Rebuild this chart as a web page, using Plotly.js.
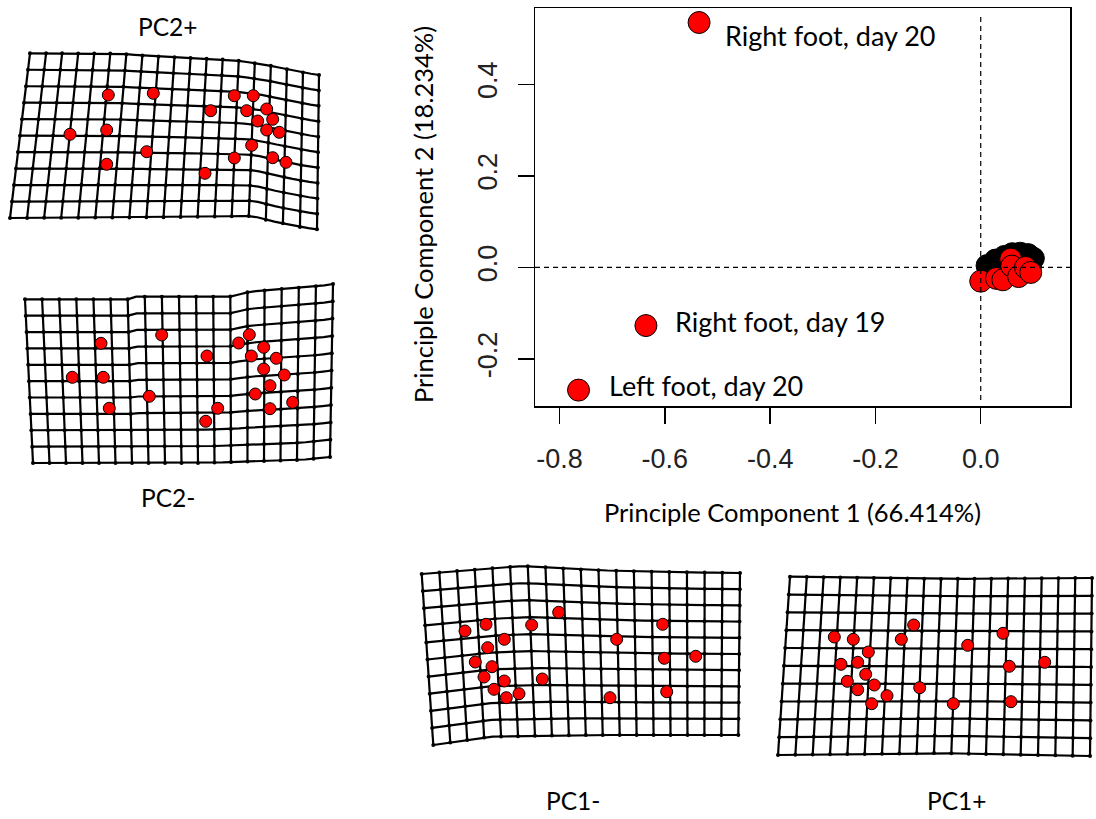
<!DOCTYPE html>
<html>
<head>
<meta charset="utf-8">
<script src="https://cdn.plot.ly/plotly-3.0.1.min.js"></script>
<style>html,body{margin:0;padding:0;background:#fff;}#plot{width:1096px;height:819px;}</style>
</head>
<body>
<div id="plot"></div>
<script>
// ---------------- DATA ----------------
// Main PCA scores (PC1, PC2)
const outlierNames = ["Right foot, day 20", "Right foot, day 19", "Left foot, day 20"];
const outlierPC1 = [-0.535, -0.636, -0.764];
const outlierPC2 = [0.535, -0.127, -0.268];
// Label anchor (left edge of text) in data units
const labelPC1 = [-0.489, -0.584, -0.710];
const labelPC2 = [0.506, -0.118, -0.258];

// Group 1 (black) cluster near origin
const blackPC1 = [0.012, 0.028, 0.035, 0.045, 0.050, 0.060, 0.075, 0.080, 0.090, 0.095, 0.100];
const blackPC2 = [0.004, 0.016, 0.008, 0.024, 0.010, 0.030, 0.031, 0.012, 0.028, 0.006, 0.020];
// Group 2 (red) cluster near origin
const redPC1 = [0.000, 0.030, 0.042, 0.057, 0.059, 0.072, 0.085, 0.095];
const redPC2 = [-0.030, -0.024, -0.027, 0.018, 0.003, -0.020, 0.000, -0.011];

const xTicks = [-0.8, -0.6, -0.4, -0.2, 0.0];
const xTickText = ["-0.8", "-0.6", "-0.4", "-0.2", "0.0"];
const yTicks = [-0.2, 0.0, 0.2, 0.4];
const yTickText = ["-0.2", "0.0", "0.2", "0.4"];

// Landmark configurations (panel-local units)
const pc2PlusX = [108.3,153.3,70,106.7,146.7,106.7,210.7,234.3,253.3,246.7,266.7,257.7,272.7,266.7,279.3,251.7,234.3,272.7,286,205];
const pc2PlusY = [55,53.3,94.3,90,111.7,124.3,70.7,55.7,55.7,70.7,69,81,79.3,90,92.3,105.3,118,117.7,122.3,133.3];
const pc2MinusX = [101,161.7,72.3,103.3,149.3,109.3,207,238.7,249.3,263.7,251.3,276.3,263.7,284.3,270,255.3,292.7,270,217.7,205.7];
const pc2MinusY = [63.3,55,97.3,97.3,116.3,128.3,76,63,54.7,67.3,76,78.3,89,95,105.7,114,122.3,128.7,128.3,141.3];
const pc1MinusX = [55,76,121.7,148.7,94.3,77.7,65.3,82,74,94.3,84,96.3,109,132.3,206.7,252.7,254.3,285.7,256.7,200];
const pc1MinusY = [71,64.3,65,52.3,79.3,87.7,102,106.7,117,121,129.3,137.7,133.7,119,79.3,64.3,98.3,96.3,131.7,137.7];
const pc1PlusX = [59.3,78.3,126.3,138.7,93.3,66,82.7,90.7,72.3,99.3,82.7,112,96.7,144.7,192.7,228,234.3,269.7,236,178.3];
const pc1PlusY = [72,74.3,74.3,60,87,99.3,97.3,109.3,116.3,120,124.7,130.7,138.7,122.7,80.3,68.3,101.3,97.3,136.7,138.7];

// ---------------- GEOMETRY (deformation grid outlines, panel-local) ----------------
const panels = [
  {name:"PC2+", ox:0, oy:40, w:340, h:200, lx:pc2PlusX, ly:pc2PlusY,
   topX:[30,117,150,213,233,267,300,319], topY:[13.3,13.5,16,19,20,25,32,35],
   botX:[10,150,253,267,300,317], botY:[178,177.3,176,180,187,189.3]},
  {name:"PC2-", ox:0, oy:280, w:345, h:200, lx:pc2MinusX, ly:pc2MinusY,
   topX:[25,130,133.3,230,250,283,320,333], topY:[19.3,19.3,16.7,16.7,11.7,9,6,4],
   botX:[33,200,300,330], botY:[183,183,180,177]},
  {name:"PC1-", ox:410, oy:560, w:345, h:200, lx:pc1MinusX, ly:pc1MinusY,
   topX:[11.7,60,113,180,250,330], topY:[14,10,6,10,12,13],
   botX:[23.3,80,166.7,328.3], botY:[185,176.7,175,175]},
  {name:"PC1+", ox:775, oy:565, w:321, h:200, lx:pc1PlusX, ly:pc1PlusY,
   topX:[15,160,317], topY:[11.7,14,13],
   botX:[3,160,315], botY:[190,188,191]}
];
const nCols = 18, nRows = 10;

function interpEdge(xs, ys, u) {
  const x = xs[0] + u * (xs[xs.length - 1] - xs[0]);
  for (let i = 0; i < xs.length - 1; i++) {
    if (x <= xs[i + 1] || i === xs.length - 2) {
      const t = (x - xs[i]) / (xs[i + 1] - xs[i]);
      return [x, ys[i] + t * (ys[i + 1] - ys[i])];
    }
  }
}
function gridPoint(p, u, v) {
  const a = interpEdge(p.topX, p.topY, u), b = interpEdge(p.botX, p.botY, u);
  return [(1 - v) * a[0] + v * b[0], (1 - v) * a[1] + v * b[1]];
}
function gridTraces(p, ax) {
  const gx = [], gy = [], nx = [], ny = [], sub = 2;
  for (let i = 0; i <= nCols; i++) {
    for (let j = 0; j <= nRows * sub; j++) {
      const q = gridPoint(p, i / nCols, j / (nRows * sub));
      gx.push(q[0]); gy.push(q[1]);
      if (j % sub === 0) { nx.push(q[0]); ny.push(q[1]); }
    }
    gx.push(null); gy.push(null);
  }
  for (let j = 0; j <= nRows; j++) {
    for (let i = 0; i <= nCols * sub; i++) {
      const q = gridPoint(p, i / (nCols * sub), j / nRows);
      gx.push(q[0]); gy.push(q[1]);
    }
    gx.push(null); gy.push(null);
  }
  return [
    {x: gx, y: gy, xaxis: 'x' + ax, yaxis: 'y' + ax, mode: 'lines', type: 'scatter',
     line: {color: '#000', width: 2.2}, hoverinfo: 'skip', showlegend: false, connectgaps: false},
    {x: nx, y: ny, xaxis: 'x' + ax, yaxis: 'y' + ax, mode: 'markers', type: 'scatter',
     marker: {color: '#000', size: 4}, hoverinfo: 'skip', showlegend: false}
  ];
}

const W = 1096, H = 819;
const traces = [];
const tickFont = {family: 'Liberation Sans, Arial, sans-serif', size: 27, color: '#222'};
const layout = {
  width: W, height: H, margin: {l: 0, r: 0, t: 0, b: 0}, showlegend: false,
  paper_bgcolor: '#fff', plot_bgcolor: 'rgba(0,0,0,0)',
  xaxis: {domain: [535 / W, 1070 / W], range: [-0.8467, 0.1696], tickvals: xTicks, ticktext: xTickText,
    ticks: 'outside', ticklen: 16, tickwidth: 1.5, tickcolor: '#000', showline: true, mirror: true,
    linecolor: '#000', linewidth: 1.5, showgrid: false, zeroline: false, ticklabelstandoff: 12,
    tickfont: tickFont},
  yaxis: {domain: [1 - 406 / H, 1 - 8 / H], range: [-0.3027, 0.5667], tickvals: yTicks, ticktext: yTickText,
    ticks: 'outside', ticklen: 16, tickwidth: 1.5, tickcolor: '#000', showline: true, mirror: true,
    linecolor: '#000', linewidth: 1.5, showgrid: false, zeroline: false, tickangle: -90, ticklabelstandoff: 10,
    tickfont: tickFont},
  shapes: [
    {type: 'line', xref: 'x', yref: 'y domain', x0: 0, x1: 0, y0: 0.015, y1: 0.985, line: {color: '#000', width: 1.2, dash: '5px,4px'}},
    {type: 'line', xref: 'x domain', yref: 'y', x0: 0, x1: 1, y0: 0, y1: 0, line: {color: '#000', width: 1.2, dash: '5px,4px'}}
  ],
  annotations: []
};

// Panels
panels.forEach((p, k) => {
  const ax = k + 2;
  layout['xaxis' + ax] = {domain: [p.ox / W, (p.ox + p.w) / W], range: [0, p.w], visible: false, fixedrange: true, anchor: 'y' + ax};
  layout['yaxis' + ax] = {domain: [1 - (p.oy + p.h) / H, 1 - p.oy / H], range: [p.h, 0], visible: false, fixedrange: true, anchor: 'x' + ax};
  gridTraces(p, ax).forEach(t => traces.push(t));
  traces.push({x: p.lx, y: p.ly, xaxis: 'x' + ax, yaxis: 'y' + ax, mode: 'markers', type: 'scatter',
    marker: {size: 12, color: '#ff0000', line: {color: '#000', width: 1}}, hoverinfo: 'skip', showlegend: false, cliponaxis: false});
});

// Main scatter
traces.push({x: blackPC1, y: blackPC2, mode: 'markers', type: 'scatter', xaxis: 'x', yaxis: 'y',
  marker: {size: 22, color: '#000', line: {color: '#000', width: 1}}, showlegend: false});
traces.push({x: outlierPC1.concat(redPC1), y: outlierPC2.concat(redPC2), mode: 'markers', type: 'scatter', xaxis: 'x', yaxis: 'y',
  marker: {size: 22, color: '#ff0000', line: {color: '#000', width: 1}}, showlegend: false});

const calib = 'Lato, Carlito, Calibri, sans-serif';
outlierNames.forEach((n, i) => {
  layout.annotations.push({x: labelPC1[i], y: labelPC2[i], xref: 'x', yref: 'y', text: n, showarrow: false,
    xanchor: 'left', yanchor: 'middle', font: {family: calib, size: 27, color: '#000'}});
});
const paperText = [
  ["Principle Component 1 (66.414%)", 792, 512, 0, 25.5],
  ["Principle Component 2 (18.234%)", 423, 215, -90, 25.5],
  ["PC2+", 168, 27, 0, 24.5],
  ["PC2-", 168, 498, 0, 24.5],
  ["PC1-", 573, 800, 0, 24.5],
  ["PC1+", 957, 800, 0, 24.5]
];
paperText.forEach(t => {
  layout.annotations.push({x: t[1] / W, y: 1 - t[2] / H, xref: 'paper', yref: 'paper', text: t[0], showarrow: false,
    xanchor: 'center', yanchor: 'middle', textangle: t[3], font: {family: calib, size: t[4], color: '#000'}});
});

Plotly.newPlot('plot', traces, layout, {staticPlot: true, displayModeBar: false});
</script>
</body>
</html>
